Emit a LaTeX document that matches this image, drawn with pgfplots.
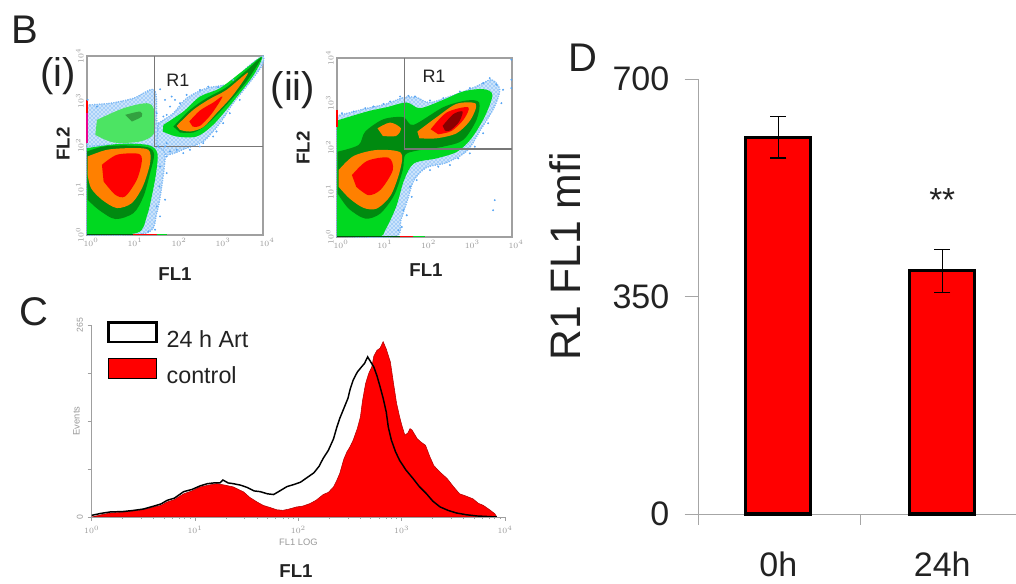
\documentclass[border=0pt]{standalone}
\usepackage{fontspec}
\setmainfont{Liberation Sans}
\usepackage{pgfplots}
\pgfplotsset{compat=1.18}
\usetikzlibrary{patterns}
\definecolor{gb}{HTML}{2F8FF0}
\definecolor{gg}{HTML}{00D820}
\definecolor{gd}{HTML}{008A10}
\definecolor{go}{HTML}{FF8000}
\definecolor{gr}{HTML}{FF0000}
\definecolor{gk}{HTML}{8A0000}
\definecolor{gate}{HTML}{777777}
\definecolor{txt}{HTML}{222222}
\pgfplotsset{
  fcs/.style={
    scale only axis, y dir=reverse,
    axis line style={draw=gate!70,line width=1.1pt},
    tick style={draw=none}, clip=false,
    ticklabel style={font=\fontsize{6}{7}\selectfont,text=gray!80},
    xticklabels={$10^{0}$,$10^{1}$,$10^{2}$,$10^{3}$,$10^{4}$},
    yticklabels={$10^{0}$,$10^{1}$,$10^{2}$,$10^{3}$,$10^{4}$},
    xticklabel style={xshift=3pt,yshift=1pt},
    yticklabel style={rotate=90,anchor=south,yshift=-1pt,xshift=0pt},
  },
  lv/.style={fill=#1,draw=none,smooth,tension=.5},
  sp/.style={fill=gb!25,draw=gb!60,line width=.8pt,densely dotted,smooth,tension=.5,
    postaction={pattern=crosshatch dots,pattern color=gb}},
  dots/.style={only marks,mark=*,mark size=.5pt,gb!80,mark options={draw=none}},
}
\begin{document}
\begin{tikzpicture}[x=0.75pt,y=0.75pt]
\useasboundingbox (0,0) rectangle (1016,584);

% ---------- B (i)
\begin{axis}[fcs,anchor=south west,at={(65.25pt,261.75pt)},width=132pt,height=134.25pt,
  xmin=260,xmax=790,ymin=168,ymax=706,
  xtick={260,392.5,525,657.5,790},ytick={706,571.5,437,302.5,168}]
\addplot[sp] coordinates {(260,315)(330,310)(400,295)(463,270)(470,360)(470,440)(360,442)(260,440)} --cycle;
\addplot[sp] coordinates {(475,370)(520,340)(560,295)(620,265)(690,250)(745,200)(790,168)(785,200)(740,260)(700,310)(660,370)(610,425)(560,445)(500,465)(470,430)} --cycle;
\addplot[sp] coordinates {(260,440)(400,432)(480,445)(495,470)(485,560)(470,640)(440,700)(260,706)} --cycle;
\addplot[lv=gg!70] coordinates {(290,360)(370,325)(440,310)(462,330)(462,400)(420,425)(340,428)(285,405)} --cycle;
\addplot[lv=gd!80] coordinates {(375,345)(420,335)(425,350)(395,365)} --cycle;
\addplot[lv=gg] coordinates {(260,445)(360,432)(445,436)(472,460)(468,520)(455,590)(440,650)(410,700)(260,704)} --cycle;
\addplot[lv=gd] coordinates {(260,455)(310,440)(380,437)(445,443)(462,465)(450,520)(430,590)(400,640)(345,658)(295,630)(262,600)} --cycle;
\addplot[lv=go] coordinates {(262,470)(320,450)(390,445)(445,450)(450,490)(428,560)(395,610)(350,625)(305,600)(272,565)(262,525)} --cycle;
\addplot[lv=gr] coordinates {(305,495)(350,465)(415,462)(425,485)(410,540)(375,590)(345,585)(310,545)} --cycle;
\addplot[lv=gg] coordinates {(490,375)(550,335)(600,290)(660,265)(730,212)(787,170)(762,225)(700,305)(640,375)(590,410)(530,410)(488,395)} --cycle;
\addplot[lv=gd] coordinates {(520,380)(570,330)(620,295)(680,262)(740,212)(786,172)(740,245)(680,315)(620,375)(580,398)(540,398)} --cycle;
\addplot[lv=go] coordinates {(530,378)(580,330)(630,297)(680,270)(745,218)(700,285)(650,340)(610,382)(570,395)(540,390)} --cycle;
\addplot[lv=gr] coordinates {(568,365)(600,332)(640,308)(668,290)(635,342)(600,378)(578,380)} --cycle;
\addplot[dots] coordinates {(480,268)(495,300)(510,320)(500,345)(525,300)(540,310)(475,440)(500,470)(530,450)(570,450)(610,430)(650,395)(690,340)(720,300)(655,262)(700,240)(480,500)(478,560)(470,620)(465,690)(445,695)(495,440)(262,300)(290,320)(470,340)(490,350)(515,290)(560,285)(600,270)(625,260)(510,455)(550,460)(500,430)(600,440)(640,410)(670,370)(500,520)(495,600)(480,650)};
\addplot[gate,line width=1.1pt] coordinates {(463,168)(463,440)};
\addplot[gate,line width=1.1pt] coordinates {(463,440)(790,440)};
\addplot[gd!60!black,line width=1pt] coordinates {(260,705)(400,705)};
\addplot[gr,line width=1pt] coordinates {(400,705)(470,705)};
\addplot[gg,line width=1pt] coordinates {(470,705)(500,705)};
\addplot[gr,line width=1pt] coordinates {(260,300)(260,340)};
\addplot[magenta,line width=1pt] coordinates {(260,340)(260,430)};
\end{axis}

% ---------- B (ii)
\begin{axis}[fcs,anchor=south west,at={(252.75pt,260.25pt)},width=131.25pt,height=134.25pt,
  xmin=200,xmax=727,ymin=85,ymax=620,
  xtick={200,331.75,463.5,595.25,727},ytick={620,486,352.5,218.75,85}]
\addplot[sp] coordinates {(200,258)(280,238)(350,222)(400,203)(440,203)(480,218)(560,193)(620,170)(665,150)(690,180)(672,235)(632,300)(592,362)(530,398)(470,412)(432,450)(412,510)(392,570)(375,618)(200,618)} --cycle;
\addplot[lv=gg] coordinates {(200,272)(290,245)(350,232)(410,218)(450,235)(520,210)(580,185)(640,178)(668,195)(645,260)(605,325)(562,365)(500,385)(432,400)(402,450)(378,530)(345,600)(325,618)(200,618)} --cycle;
\addplot[lv=gd] coordinates {(202,365)(265,345)(285,305)(340,268)(400,262)(430,285)(520,232)(590,212)(628,218)(620,270)(580,330)(520,350)(440,362)(405,375)(398,420)(372,495)(330,550)(285,565)(235,535)(202,490)} --cycle;
\addplot[lv=go] coordinates {(205,420)(250,378)(320,360)(392,368)(390,420)(362,495)(320,535)(280,533)(238,505)(205,470)} --cycle;
\addplot[lv=go] coordinates {(322,295)(360,278)(392,295)(378,318)(338,318)} --cycle;
\addplot[lv=go] coordinates {(442,305)(500,262)(560,222)(618,222)(602,270)(560,310)(500,325)(448,325)} --cycle;
\addplot[lv=gr] coordinates {(245,435)(290,393)(355,383)(368,420)(332,478)(295,495)(258,470)} --cycle;
\addplot[lv=gr] coordinates {(482,298)(530,248)(595,232)(582,268)(545,303)(505,313)} --cycle;
\addplot[lv=gk] coordinates {(518,288)(550,253)(578,245)(567,277)(540,302)(525,302)} --cycle;
\addplot[dots] coordinates {(285,235)(340,222)(390,200)(435,200)(480,212)(570,185)(660,145)(700,180)(695,220)(640,310)(600,370)(540,405)(480,420)(440,450)(425,500)(410,555)(395,590)(215,250)(250,245)(725,90)(725,150)(725,175)(675,510)(670,540)(310,230)(360,215)(415,198)(520,205)(600,175)(640,160)(680,165)(655,280)(615,350)(565,385)(505,410)(420,470)(400,540)(385,600)};
\addplot[gate,line width=1.1pt] coordinates {(403,85)(403,357)};
\addplot[gate,line width=1.1pt] coordinates {(403,357)(727,357)};
\addplot[gd!60!black,line width=1pt] coordinates {(200,619)(390,619)};
\addplot[gr,line width=1pt] coordinates {(390,619)(430,619)};
\addplot[gg,line width=1pt] coordinates {(430,619)(465,619)};
\addplot[gr,line width=1pt] coordinates {(200,240)(200,290)};
\end{axis}

% ---------- C
\begin{axis}[scale only axis,anchor=south west,at={(68.8pt,50.25pt)},width=310pt,height=144pt,
  xmin=0,xmax=4,ymin=0,ymax=265,
  axis x line=bottom,axis y line=left,
  axis line style={draw=gray!75,line width=.7pt,-},
  xtick={0,1,2,3,4},xticklabels={$10^{0}$,$10^{1}$,$10^{2}$,$10^{3}$,$10^{4}$},
  minor xtick={.3,.48,.6,.7,.78,.85,.9,.95,1.3,1.48,1.6,1.7,1.78,1.85,1.9,1.95,2.3,2.48,2.6,2.7,2.78,2.85,2.9,2.95,3.3,3.48,3.6,3.7,3.78,3.85,3.9,3.95},
  ytick={0,66.25,132.5,198.75,265},yticklabels={0,,,,265},
  tick style={draw=gray!75,line width=.5pt},
  tick align=outside,major tick length=3pt,minor tick length=1.5pt,
  ticklabel style={font=\fontsize{6.5}{7}\selectfont,text=gray!80},
  yticklabel style={rotate=90,anchor=south},
  xlabel={FL1 LOG},xlabel style={font=\fontsize{7}{8}\selectfont,text=gray!80,yshift=3pt},
  ylabel={Events},ylabel style={font=\fontsize{7}{8}\selectfont,text=gray!80,yshift=-9pt},
  legend style={at={(0.037,1.02)},anchor=north west,draw=none,fill=none,
    font=\fontsize{17.5}{19}\selectfont,text=txt,row sep=5pt,inner sep=0pt,
    nodes={inner sep=1.5pt}},
  legend cell align=left,
  legend image code/.code={\draw[#1] (0pt,-1.5pt) rectangle (36pt,13pt);\path[draw=none,fill=none] (0pt,-6pt) rectangle (42pt,13pt);},
  ]
\addlegendimage{black,line width=2pt,fill=white}
\addlegendentry{24 h Art}
\addlegendimage{black,line width=.8pt,fill=gr}
\addlegendentry{control}
\addplot[fill=gr,draw=gr!70!black,line width=.4pt] coordinates {
(0,0)(.09,3)(.18,5.5)(.30,6.5)(.40,8.3)(.50,10)(.60,13.8)(.67,16)(.73,20.7)(.80,24)(.89,32)(.97,36)(1.05,41.5)(1.13,44)(1.21,46)(1.29,44)(1.37,41.5)(1.42,38)(1.47,34.6)(1.53,27)(1.60,20.7)(1.66,16)(1.73,12.9)(1.79,10)(1.85,9.2)(1.91,11)(1.98,13.8)(2.04,15)(2.11,18.4)(2.17,23)(2.24,31)(2.29,34)(2.34,41.5)(2.37,50)(2.40,60)(2.44,80)(2.47,90)(2.50,97)(2.53,106)(2.57,122)(2.60,138)(2.62,160)(2.65,184)(2.68,198)(2.71,207)(2.73,222)(2.76,230)(2.79,233)(2.82,242)(2.85,232)(2.89,214)(2.92,185)(2.95,157)(2.98,138)(3.00,127)(3.03,113)(3.06,116)(3.08,122)(3.10,120)(3.15,108)(3.19,103)(3.23,99)(3.27,84)(3.31,71)(3.37,62)(3.44,53)(3.50,42)(3.56,32)(3.62,29)(3.69,25)(3.74,19)(3.79,16)(3.85,10)(3.90,4.6)(3.92,0)} --cycle;
\addplot[black,line width=1.1pt] coordinates {
(0,2.3)(.09,5)(.18,7)(.30,7.5)(.40,9)(.50,11)(.60,15)(.67,18)(.73,23)(.80,26)(.89,35)(.97,38)(1.05,43)(1.12,46)(1.18,47)(1.24,47)(1.27,51)(1.32,47)(1.37,46)(1.44,44)(1.50,41)(1.57,36)(1.63,35)(1.70,32)(1.76,31)(1.82,36)(1.89,42)(1.96,45)(2.02,48)(2.09,55)(2.15,61)(2.20,70)(2.24,81)(2.29,92)(2.34,108)(2.37,123)(2.40,136)(2.44,150)(2.48,164)(2.50,176)(2.53,189)(2.57,200)(2.61,207)(2.64,212)(2.67,221)(2.70,214)(2.73,207)(2.76,195)(2.79,180)(2.82,164)(2.85,145)(2.87,124)(2.90,106)(2.94,90)(2.98,78)(3.04,65)(3.11,53)(3.17,42)(3.24,32)(3.30,22)(3.37,14)(3.45,9)(3.53,5.5)(3.63,3)(3.73,1.4)(3.92,0)};
\end{axis}

% ---------- D
\begin{axis}[scale only axis,anchor=south west,at={(523.5pt,52.5pt)},width=238.5pt,height=326.25pt,
  xmin=-0.49,xmax=1.45,ymin=0,ymax=700,
  axis x line=bottom,axis y line=left,
  axis line style={draw=gray!70,line width=.7pt,-},
  ytick={0,350,700},yticklabels={0,350,700},
  xtick={0,1},xticklabels={0h,24h},
  minor xtick={-.49,.5},
  major tick length=10pt,minor tick length=8pt,
  tick align=outside,
  tick style={draw=gray!70,line width=.7pt},
  xtick style={draw=none},
  minor x tick style={draw=gray!70,line width=.7pt},
  ticklabel style={font=\fontsize{25.5}{26}\selectfont,text=txt},
  yticklabel style={xshift=-8pt},
  xticklabel style={yshift=-15pt},
  ylabel={R1 FL1 mfi},
  ylabel style={font=\fontsize{32}{34}\selectfont,text=txt,at={(rel axis cs:-0.418,0.592)},anchor=center},
  ybar,bar width=48.75pt,clip=false,
  ]
\addplot[fill=red,draw=black,line width=2.4pt,
  error bars/.cd,y dir=both,y explicit,
  error bar style={black,line width=.9pt},
  error mark options={rotate=90,mark size=6pt,line width=.9pt,black}]
  coordinates {(0,606) += (0,34) -= (0,33) (1,392) += (0,33) -= (0,35)};
\node[font=\fontsize{25}{26}\selectfont,text=txt] at (axis cs:1,505) {**};
\end{axis}

% ---------- Panel text
\node[font=\fontsize{30}{32}\selectfont,text=txt] at (25,554) {B};
\node[font=\fontsize{30}{32}\selectfont,text=txt] at (34,272) {C};
\node[font=\fontsize{30}{32}\selectfont,text=txt] at (583,526) {D};
\node[font=\fontsize{30}{32}\selectfont,text=txt] at (58,508) {(i)};
\node[font=\fontsize{30}{32}\selectfont,text=txt] at (293,494) {(ii)};
\node[font=\fontsize{13.5}{15}\selectfont,text=txt] at (178,504) {R1};
\node[font=\fontsize{13.5}{15}\selectfont,text=txt] at (434,508) {R1};
\node[font=\bfseries\fontsize{14}{15}\selectfont,text=txt,rotate=90] at (63,440) {FL2};
\node[font=\bfseries\fontsize{14}{15}\selectfont,text=txt,rotate=90] at (303,436) {FL2};
\node[font=\bfseries\fontsize{14}{15}\selectfont,text=txt] at (175,310) {FL1};
\node[font=\bfseries\fontsize{14}{15}\selectfont,text=txt] at (426,314) {FL1};
\node[font=\bfseries\fontsize{14}{15}\selectfont,text=txt] at (296,13) {FL1};
\end{tikzpicture}
\end{document}
